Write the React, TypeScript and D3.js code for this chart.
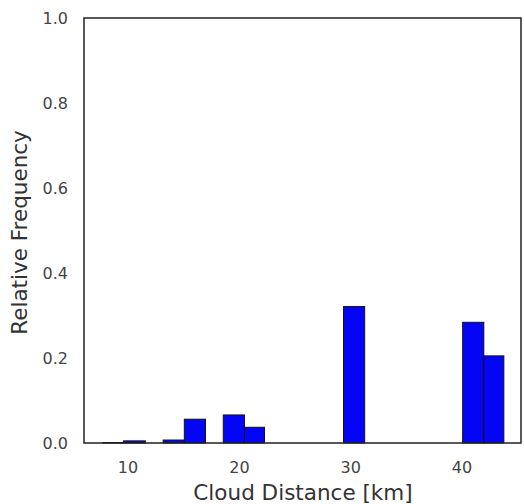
import React, { useRef, useEffect } from 'react';
import * as d3 from 'd3';

// histogram bins (km)
const binStart = [7.8, 9.65, 13.2, 15.1, 18.6, 20.5, 29.4, 40.1, 42.0];
const binEnd = [9.65, 11.6, 15.1, 17.0, 20.5, 22.3, 31.3, 42.0, 43.8];
const frequency = [0.001, 0.005, 0.007, 0.056, 0.066, 0.037, 0.321, 0.284, 0.205];
const xTicks = [10, 20, 30, 40];
const yTicks = [0, 0.2, 0.4, 0.6, 0.8, 1.0];

export default function App() {
  const ref = useRef<SVGSVGElement>(null);

  useEffect(() => {
    const svg = d3.select(ref.current);
    svg.selectAll('*').remove();
    const width = 524, height = 504;
    const left = 84, right = 521, top = 18, bottom = 443;
    const font = 'DejaVu Sans, sans-serif';

    const x = d3.scaleLinear().domain([6.09, 45.34]).range([left, right]);
    const y = d3.scaleLinear().domain([0, 1]).range([bottom, top]);

    svg.attr('width', width).attr('height', height);
    svg.append('rect').attr('width', width).attr('height', height).attr('fill', '#fff');

    const data = frequency.map((f, i) => ({ x0: binStart[i], x1: binEnd[i], f }));

    svg.append('g').selectAll('rect')
      .data(data)
      .join('rect')
      .attr('x', d => x(d.x0))
      .attr('y', d => y(d.f))
      .attr('width', d => x(d.x1) - x(d.x0))
      .attr('height', d => y(0) - y(d.f))
      .attr('fill', '#0505f5')
      .attr('stroke', '#111')
      .attr('stroke-width', 1);

    svg.append('rect')
      .attr('x', left).attr('y', top)
      .attr('width', right - left).attr('height', bottom - top)
      .attr('fill', 'none').attr('stroke', '#222').attr('stroke-width', 1.5);

    const xAxis = svg.append('g')
      .attr('transform', `translate(0,${bottom})`)
      .call(d3.axisBottom(x).tickValues(xTicks).tickSize(0).tickPadding(19).tickFormat(d3.format('d')));
    xAxis.select('.domain').remove();
    xAxis.selectAll('text').attr('font-family', font).attr('font-size', 16).attr('fill', '#444');

    const yAxis = svg.append('g')
      .attr('transform', `translate(${left},0)`)
      .call(d3.axisLeft(y).tickValues(yTicks).tickSize(0).tickPadding(16).tickFormat(d3.format('.1f')));
    yAxis.select('.domain').remove();
    yAxis.selectAll('text').attr('font-family', font).attr('font-size', 16).attr('fill', '#444');

    svg.append('text')
      .attr('x', 303)
      .attr('y', 500)
      .attr('text-anchor', 'middle')
      .attr('font-family', font)
      .attr('font-size', 21.5)
      .attr('fill', '#333')
      .text('Cloud Distance [km]');

    svg.append('text')
      .attr('transform', `translate(27,${(top + bottom) / 2 + 2}) rotate(-90)`)
      .attr('text-anchor', 'middle')
      .attr('font-family', font)
      .attr('font-size', 21.5)
      .attr('fill', '#333')
      .text('Relative Frequency');
  }, []);

  return <svg ref={ref} role="img" aria-label="Histogram" style={{ position: 'absolute', left: 0, top: 0 }}></svg>;
}
